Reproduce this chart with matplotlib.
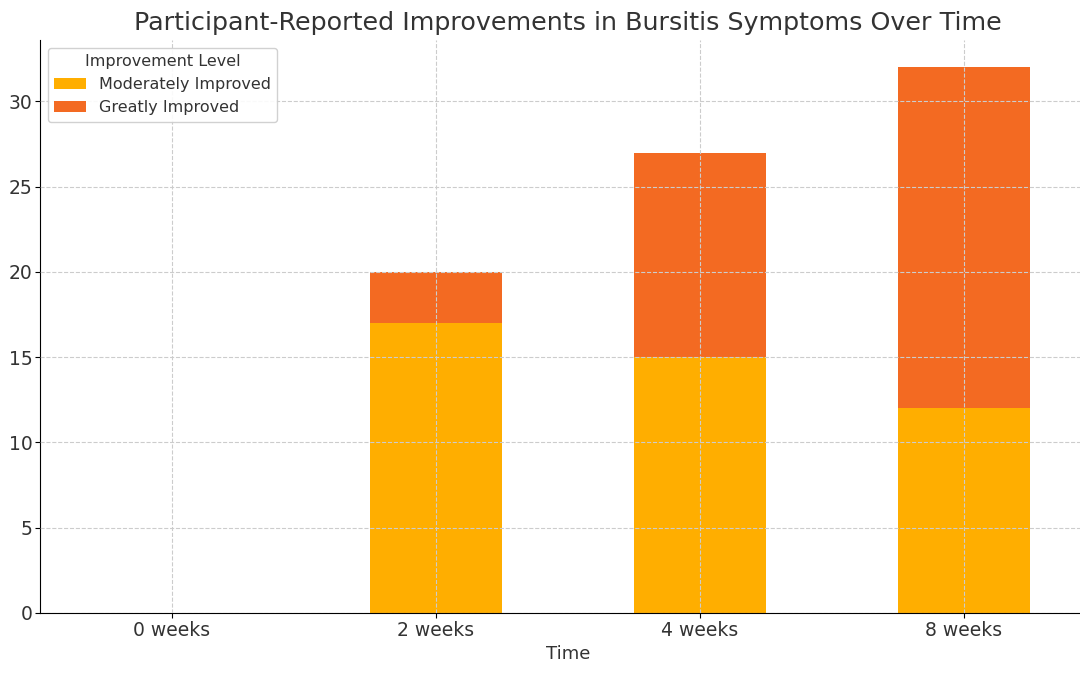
import matplotlib
matplotlib.use('Agg')
import matplotlib.pyplot as plt
import numpy as np

times = ['0 weeks', '2 weeks', '4 weeks', '8 weeks']
moderately = [0, 17, 15, 12]
greatly = [0, 3, 12, 20]

fig = plt.figure(figsize=(10.8, 6.75), dpi=100)
# axes runs a bit past the right edge, like the cropped original
ax = fig.add_axes([40 / 1080, 62 / 675, 1056 / 1080, 573 / 675])

x = np.arange(len(times))
ax.bar(x, moderately, width=0.5, color='#ffae00', label='Moderately Improved')
ax.bar(x, greatly, width=0.5, bottom=moderately, color='#f36a22', label='Greatly Improved')

ax.set_xlim(-0.5, 3.5)
ax.set_ylim(0, 33.6)
ax.set_xticks(x)
ax.set_xticklabels(times)
ax.tick_params(labelsize=13.5, colors='#333333', pad=2)
ax.tick_params(axis='both', color='black')

ax.grid(True, linestyle='--', color='#cccccc', linewidth=0.8)
ax.set_axisbelow(False)

for s in ['top', 'right']:
    ax.spines[s].set_visible(False)

ax.set_title('Participant-Reported Improvements in Bursitis Symptoms Over Time',
             fontsize=18.3, color='#333333', pad=7)
ax.set_xlabel('Time', fontsize=13, color='#333333')

leg = ax.legend(title='Improvement Level', loc='upper left', fontsize=11.5,
                title_fontsize=11.5, framealpha=0.9)
for t in leg.get_texts():
    t.set_color('#333333')
leg.get_title().set_color('#333333')

fig.savefig('out.png', dpi=100)
